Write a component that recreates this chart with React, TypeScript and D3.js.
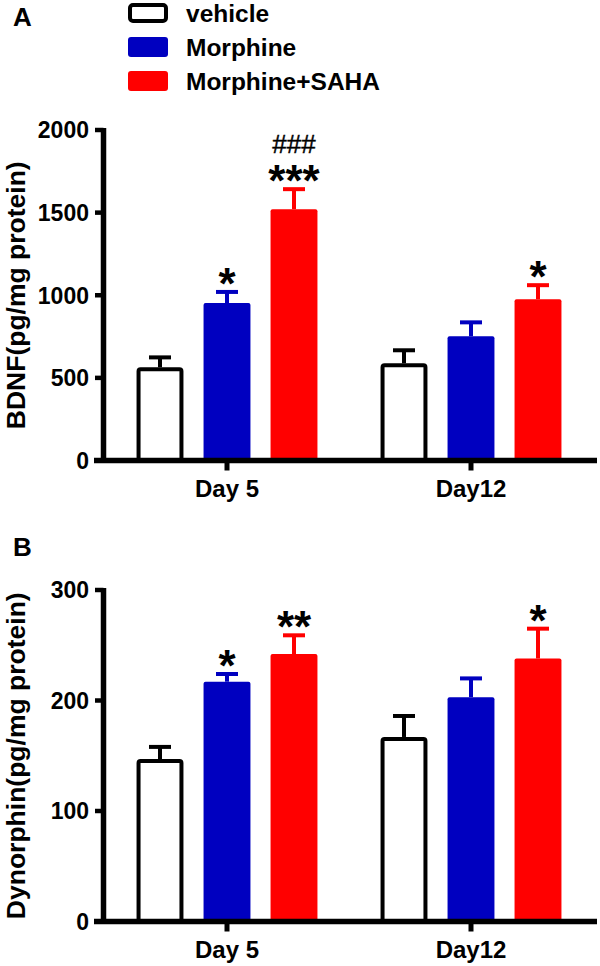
import React from "react";
import * as d3 from "d3";

const groups = ["Day 5", "Day12"];
const series = ["vehicle", "Morphine", "Morphine+SAHA"];
const seriesFill = ["#ffffff", "#0000c0", "#ff0000"];
const seriesStroke = ["#000000", "#0000c0", "#ff0000"];

// Panel A: BDNF (pg/mg protein)
const bdnfVehicle = [564, 588];
const bdnfMorphine = [953, 752];
const bdnfSaha = [1521, 976];
const bdnfVehicleErr = [60, 79];
const bdnfMorphineErr = [67, 84];
const bdnfSahaErr = [121, 85];
const bdnfStars = [["", ""], ["*", ""], ["***", "*"]];
const bdnfHash = [["", ""], ["", ""], ["###", ""]];
const bdnfTicks = [0, 500, 1000, 1500, 2000];

// Panel B: Dynorphin (pg/mg protein)
const dynVehicle = [147, 167];
const dynMorphine = [217, 203];
const dynSaha = [242, 238];
const dynVehicleErr = [11, 19];
const dynMorphineErr = [7, 17];
const dynSahaErr = [17, 27];
const dynStars = [["", ""], ["*", ""], ["**", "*"]];
const dynHash = [["", ""], ["", ""], ["", ""]];
const dynTicks = [0, 100, 200, 300];

const FONT = "'Liberation Sans', Arial, sans-serif";

type PanelProps = {
  letter: string;
  letterY: number;
  yTop: number;
  yBottom: number;
  yMax: number;
  ticks: number[];
  yLabel: string;
  values: number[][];
  errs: number[][];
  stars: string[][];
  hashes: string[][];
};

function Panel(p: PanelProps) {
  const y = d3.scaleLinear().domain([0, p.yMax]).range([p.yBottom, p.yTop]);
  const x0 = d3.scaleBand<string>().domain(groups).range([105, 593]);
  const x1 = d3
    .scaleBand<string>()
    .domain(series)
    .range([-100.5, 100.5])
    .paddingInner(0.3)
    .paddingOuter(0.15);
  const axisX = 103.5;
  const bw = x1.bandwidth();
  return (
    <g>
      <text x={13} y={p.letterY} fontFamily={FONT} fontWeight="bold" fontSize={26}>
        {p.letter}
      </text>
      <text
        transform={`translate(25,${(p.yTop + p.yBottom) / 2}) rotate(-90)`}
        textAnchor="middle"
        fontFamily={FONT}
        fontWeight="bold"
        fontSize={26.5}
      >
        {p.yLabel}
      </text>
      {groups.map((g, gi) => {
        const cx = (x0(g) as number) + x0.bandwidth() / 2;
        return series.map((s, si) => {
          const bx = cx + (x1(s) as number);
          const v = p.values[si][gi];
          const e = p.errs[si][gi];
          const bc = bx + bw / 2;
          const top = y(v);
          const etop = y(v + e);
          const isOutline = si === 0;
          return (
            <g key={g + s}>
              <line x1={bc} x2={bc} y1={top} y2={etop} stroke={seriesStroke[si]} strokeWidth={4} />
              <line x1={bc - 11} x2={bc + 11} y1={etop} y2={etop} stroke={seriesStroke[si]} strokeWidth={4} />
              {isOutline ? (
                <rect
                  x={bx + 2}
                  y={top + 2}
                  width={bw - 4}
                  height={p.yBottom - top - 2}
                  fill="#fff"
                  stroke="#000"
                  strokeWidth={4}
                  rx={2}
                />
              ) : (
                <rect x={bx} y={top} width={bw} height={p.yBottom - top} fill={seriesFill[si]} rx={2} />
              )}
              {p.stars[si][gi] && (
                <text
                  x={bc}
                  y={etop + 7}
                  textAnchor="middle"
                  fontFamily={FONT}
                  fontWeight="bold"
                  fontSize={44}
                >
                  {p.stars[si][gi]}
                </text>
              )}
              {p.hashes[si][gi] && (
                <text x={bc} y={etop - 36} textAnchor="middle" fontFamily={FONT} fontSize={26} stroke="#000" strokeWidth={0.4}>
                  {p.hashes[si][gi]}
                </text>
              )}
            </g>
          );
        });
      })}
      {/* y axis */}
      <line x1={axisX} x2={axisX} y1={p.yTop - 2} y2={p.yBottom} stroke="#000" strokeWidth={5.5} />
      {p.ticks.map((t) => (
        <g key={t}>
          <line x1={95} x2={axisX} y1={y(t)} y2={y(t)} stroke="#000" strokeWidth={4.5} />
          <text
            x={89}
            y={y(t)}
            dy="0.36em"
            textAnchor="end"
            fontFamily={FONT}
            fontWeight="bold"
            fontSize={23}
          >
            {t}
          </text>
        </g>
      ))}
      {/* x axis */}
      <line x1={94} x2={597} y1={p.yBottom} y2={p.yBottom} stroke="#000" strokeWidth={5.5} />
      {groups.map((g) => {
        const cx = (x0(g) as number) + x0.bandwidth() / 2;
        return (
          <g key={g}>
            <line x1={cx} x2={cx} y1={p.yBottom} y2={p.yBottom + 10} stroke="#000" strokeWidth={5} />
            <text
              x={cx}
              y={p.yBottom + 36}
              textAnchor="middle"
              fontFamily={FONT}
              fontWeight="bold"
              fontSize={24}
            >
              {g}
            </text>
          </g>
        );
      })}
    </g>
  );
}

export default function App() {
  const legendY = [3, 37, 71];
  return (
    <svg
      width={600}
      height={966}
      style={{ position: "absolute", left: 0, top: 0, background: "#fff" }}
    >
      <rect width={600} height={966} fill="#fff" />
      {series.map((s, i) => (
        <g key={s}>
          {i === 0 ? (
            <rect x={130} y={legendY[i] + 2} width={36} height={16} fill="#fff" stroke="#000" strokeWidth={4} rx={3} />
          ) : (
            <rect x={128} y={legendY[i]} width={40} height={20} fill={seriesFill[i]} rx={3} />
          )}
          <text x={186} y={legendY[i] + 19} fontFamily={FONT} fontWeight="bold" fontSize={24.5}>
            {s}
          </text>
        </g>
      ))}
      <Panel
        letter="A"
        letterY={26}
        yTop={130}
        yBottom={460.5}
        yMax={2000}
        ticks={bdnfTicks}
        yLabel="BDNF(pg/mg protein)"
        values={[bdnfVehicle, bdnfMorphine, bdnfSaha]}
        errs={[bdnfVehicleErr, bdnfMorphineErr, bdnfSahaErr]}
        stars={bdnfStars}
        hashes={bdnfHash}
      />
      <Panel
        letter="B"
        letterY={556}
        yTop={590}
        yBottom={921.5}
        yMax={300}
        ticks={dynTicks}
        yLabel="Dynorphin(pg/mg protein)"
        values={[dynVehicle, dynMorphine, dynSaha]}
        errs={[dynVehicleErr, dynMorphineErr, dynSahaErr]}
        stars={dynStars}
        hashes={dynHash}
      />
    </svg>
  );
}
